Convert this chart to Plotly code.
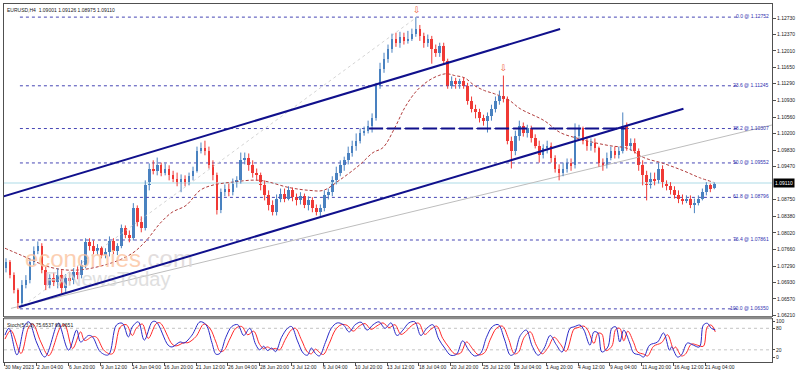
import plotly.graph_objects as go

# ---------------- data ----------------
title_text = "EURUSD,H4  1.09001 1.09126 1.08975 1.09110"
stoch_text = "Stoch(5,3,3) 75.6537 69.9651"

opens = [1.0724, 1.0737, 1.0709, 1.0676, 1.0647, 1.0687, 1.0698, 1.0737, 1.0763, 1.0774,
         1.0720, 1.0687, 1.0702, 1.0693, 1.0709, 1.0680, 1.0702, 1.0698, 1.0715, 1.0709,
         1.0731, 1.0781, 1.0774, 1.0763, 1.0768, 1.0753, 1.0759, 1.0785, 1.0763, 1.0774,
         1.0812, 1.0796, 1.0790, 1.0856, 1.0825, 1.0812, 1.0906, 1.0943, 1.0938, 1.0950,
         1.0934, 1.0943, 1.0928, 1.0921, 1.0913, 1.0921, 1.0913, 1.0926, 1.0938, 1.0982,
         1.0989, 1.0982, 1.0950, 1.0928, 1.0851, 1.0891, 1.0899, 1.0891, 1.0910, 1.0917,
         1.0961, 1.0967, 1.0950, 1.0934, 1.0928, 1.0906, 1.0884, 1.0862, 1.0847, 1.0877,
         1.0888, 1.0877, 1.0895, 1.0880, 1.0873, 1.0882, 1.0862, 1.0873, 1.0856, 1.0847,
         1.0856, 1.0884, 1.0891, 1.0917, 1.0934, 1.0950, 1.0961, 1.0978, 1.0993, 1.1004,
         1.1022, 1.1026, 1.1037, 1.1053, 1.1125, 1.1162, 1.1184, 1.1206, 1.1228, 1.1219,
         1.1232, 1.1223, 1.1228, 1.1239, 1.1250, 1.1234, 1.1219, 1.1228, 1.1206, 1.1197,
         1.1212, 1.1180, 1.1125, 1.1136, 1.1129, 1.1136, 1.1125, 1.1092, 1.1074, 1.1066,
         1.1053, 1.1048, 1.1059, 1.1074, 1.1092, 1.1103, 1.1096, 1.1004, 1.0982, 1.1015,
         1.1037, 1.1022, 1.1031, 1.1009, 1.0993, 1.0972, 1.0987, 1.0993, 1.0965, 1.0943,
         1.0934, 1.0943, 1.0954, 1.0950, 1.1015, 1.1031, 1.1004, 1.0993, 1.1000, 1.0987,
         1.0956, 1.0950, 1.0967, 1.0982, 1.0972, 1.0982, 1.1037, 1.0993, 1.1000, 1.0982,
         1.0950, 1.0928, 1.0906, 1.0921, 1.0917, 1.0943, 1.0910, 1.0904, 1.0895, 1.0884,
         1.0877, 1.0873, 1.0877, 1.0862, 1.0867, 1.0877, 1.0891, 1.0906, 1.09001]

highs = [1.0746, 1.0742, 1.0715, 1.0680, 1.0698, 1.0709, 1.0746, 1.0772, 1.0783, 1.0779,
         1.0728, 1.0711, 1.0715, 1.0724, 1.0720, 1.0711, 1.0715, 1.0724, 1.0728, 1.0742,
         1.0790, 1.0790, 1.0785, 1.0777, 1.0772, 1.0768, 1.0794, 1.0790, 1.0779, 1.0820,
         1.0818, 1.0807, 1.0867, 1.0862, 1.0838, 1.0917, 1.0954, 1.0961, 1.0967, 1.0956,
         1.0954, 1.0950, 1.0938, 1.0934, 1.0930, 1.0928, 1.0934, 1.0947, 1.0991, 1.1000,
         1.1004, 1.0991, 1.0961, 1.0934, 1.0899, 1.0908, 1.0910, 1.0921, 1.0926, 1.0978,
         1.0978, 1.0976, 1.0961, 1.0943, 1.0934, 1.0917, 1.0895, 1.0873, 1.0886, 1.0899,
         1.0899, 1.0904, 1.0901, 1.0888, 1.0891, 1.0888, 1.0882, 1.0880, 1.0864, 1.0864,
         1.0895, 1.0899, 1.0926, 1.0947, 1.0961, 1.0969, 1.0991, 1.1004, 1.1020, 1.1031,
         1.1035, 1.1048, 1.1064, 1.1131, 1.1175, 1.1197, 1.1215, 1.1239, 1.1241, 1.1243,
         1.1241, 1.1245, 1.1250, 1.12752, 1.1258, 1.1241, 1.1237, 1.1234, 1.1215, 1.1219,
         1.1219, 1.1184, 1.1145, 1.1142, 1.1140, 1.1142, 1.1131, 1.1101, 1.1083, 1.1074,
         1.1061, 1.1066, 1.1083, 1.1101, 1.1114, 1.1147, 1.1101, 1.1013, 1.1026, 1.1048,
         1.1044, 1.1039, 1.1037, 1.1018, 1.1004, 1.0996, 1.1004, 1.1000, 1.0972, 1.0952,
         1.0956, 1.0965, 1.0965, 1.1042, 1.1039, 1.1035, 1.1013, 1.1009, 1.1009, 1.0991,
         1.0965, 1.0978, 1.0991, 1.0991, 1.0991, 1.1066, 1.1044, 1.1009, 1.1009, 1.0987,
         1.0961, 1.0938, 1.0934, 1.0934, 1.0956, 1.0950, 1.0917, 1.0913, 1.0904, 1.0895,
         1.0886, 1.0884, 1.0884, 1.0877, 1.0884, 1.0899, 1.0913, 1.0910, 1.09126]

lows = [1.0715, 1.0702, 1.0669, 1.0635, 1.0641, 1.0680, 1.0691, 1.0731, 1.0755, 1.0713,
        1.0676, 1.0680, 1.0685, 1.0680, 1.0669, 1.0672, 1.0687, 1.0689, 1.0700, 1.0702,
        1.0724, 1.0763, 1.0755, 1.0753, 1.0746, 1.0746, 1.0750, 1.0755, 1.0753, 1.0768,
        1.0790, 1.0781, 1.0785, 1.0816, 1.0803, 1.0807, 1.0895, 1.0930, 1.0928, 1.0926,
        1.0928, 1.0917, 1.0913, 1.0904, 1.0891, 1.0904, 1.0906, 1.0917, 1.0934, 1.0976,
        1.0972, 1.0943, 1.0917, 1.0842, 1.0845, 1.0882, 1.0882, 1.0884, 1.0901, 1.0910,
        1.0952, 1.0938, 1.0923, 1.0917, 1.0895, 1.0873, 1.0851, 1.0840, 1.0840, 1.0869,
        1.0869, 1.0873, 1.0871, 1.0862, 1.0864, 1.0856, 1.0851, 1.0847, 1.0840, 1.0838,
        1.0849, 1.0875, 1.0882, 1.0908, 1.0926, 1.0938, 1.0952, 1.0969, 1.0982, 1.0998,
        1.1015, 1.1020, 1.1022, 1.1048, 1.1118, 1.1153, 1.1175, 1.1197, 1.1210, 1.1208,
        1.1215, 1.1217, 1.1223, 1.1232, 1.1223, 1.1208, 1.1210, 1.1173, 1.1188, 1.1188,
        1.1173, 1.1118, 1.1118, 1.1118, 1.1118, 1.1118, 1.1083, 1.1066, 1.1053, 1.1044,
        1.1037, 1.1022, 1.1048, 1.1066, 1.1083, 1.1088, 1.0996, 1.0943, 1.0972, 1.1004,
        1.1013, 1.1011, 1.1000, 1.0987, 1.0956, 1.0965, 1.0976, 1.0956, 1.0934, 1.0917,
        1.0926, 1.0934, 1.0938, 1.0943, 1.1009, 1.0996, 1.0982, 1.0982, 1.0978, 1.0947,
        1.0938, 1.0943, 1.0961, 1.0965, 1.0965, 1.0976, 1.0982, 1.0982, 1.0976, 1.0938,
        1.0906, 1.0873, 1.0899, 1.0906, 1.0910, 1.0901, 1.0895, 1.0886, 1.0877, 1.0867,
        1.0864, 1.0867, 1.0856, 1.0845, 1.0862, 1.0873, 1.0884, 1.0891, 1.08975]

closes = [1.0737, 1.0709, 1.0676, 1.0647, 1.0687, 1.0698, 1.0737, 1.0763, 1.0774, 1.0720,
          1.0687, 1.0702, 1.0693, 1.0709, 1.0680, 1.0702, 1.0698, 1.0715, 1.0709, 1.0731,
          1.0781, 1.0774, 1.0763, 1.0768, 1.0753, 1.0759, 1.0785, 1.0763, 1.0774, 1.0812,
          1.0796, 1.0790, 1.0856, 1.0825, 1.0812, 1.0906, 1.0943, 1.0938, 1.0950, 1.0934,
          1.0943, 1.0928, 1.0921, 1.0913, 1.0921, 1.0913, 1.0926, 1.0938, 1.0982, 1.0989,
          1.0982, 1.0950, 1.0928, 1.0851, 1.0891, 1.0899, 1.0891, 1.0910, 1.0917, 1.0961,
          1.0967, 1.0950, 1.0934, 1.0928, 1.0906, 1.0884, 1.0862, 1.0847, 1.0877, 1.0888,
          1.0877, 1.0895, 1.0880, 1.0873, 1.0882, 1.0862, 1.0873, 1.0856, 1.0847, 1.0856,
          1.0884, 1.0891, 1.0917, 1.0934, 1.0950, 1.0961, 1.0978, 1.0993, 1.1004, 1.1022,
          1.1026, 1.1037, 1.1053, 1.1125, 1.1162, 1.1184, 1.1206, 1.1228, 1.1219, 1.1232,
          1.1223, 1.1228, 1.1239, 1.1250, 1.1234, 1.1219, 1.1228, 1.1206, 1.1197, 1.1212,
          1.1180, 1.1125, 1.1136, 1.1129, 1.1136, 1.1125, 1.1092, 1.1074, 1.1066, 1.1053,
          1.1048, 1.1059, 1.1074, 1.1092, 1.1103, 1.1096, 1.1004, 1.0982, 1.1015, 1.1037,
          1.1022, 1.1031, 1.1009, 1.0993, 1.0972, 1.0987, 1.0993, 1.0965, 1.0943, 1.0934,
          1.0943, 1.0954, 1.0950, 1.1015, 1.1031, 1.1004, 1.0993, 1.1000, 1.0987, 1.0956,
          1.0950, 1.0967, 1.0982, 1.0972, 1.0982, 1.1037, 1.0993, 1.1000, 1.0982, 1.0950,
          1.0928, 1.0906, 1.0921, 1.0917, 1.0943, 1.0910, 1.0904, 1.0895, 1.0884, 1.0877,
          1.0873, 1.0877, 1.0862, 1.0867, 1.0877, 1.0891, 1.0906, 1.0899, 1.09110]

# moving average (read at sampled bars)
ma_bars = [0, 8, 23, 36, 53, 64, 71, 78, 84, 91, 98, 104, 114, 128, 143, 153, 160, 168, 178,
           185, 190, 196, 201, 207, 213, 218, 222, 226, 231, 236, 241, 246, 253, 259, 271,
           279, 288, 296, 304, 313, 321, 331, 341, 349, 356]
ma_vals = [1.0768, 1.0753, 1.0726, 1.0720, 1.0735, 1.0757, 1.0785, 1.0823, 1.0847, 1.0862,
           1.0895, 1.0906, 1.0913, 1.0917, 1.0901, 1.0895, 1.0895, 1.0917, 1.0950, 1.0978,
           1.0989, 1.1033, 1.1077, 1.1114, 1.1136, 1.1147, 1.1151, 1.1147, 1.1142, 1.1125,
           1.1114, 1.1107, 1.1094, 1.1074, 1.1048, 1.1022, 1.1009, 1.1000, 1.0993, 1.0987,
           1.0967, 1.0954, 1.0938, 1.0923, 1.0913]

# stochastic main (%K), read at sampled bars
stk_bars = [0, 2, 6, 10, 12, 16, 20, 26, 27, 32, 36, 38, 42, 44, 48, 52, 56, 59, 62, 64, 67, 70,
            74, 76, 82, 84, 88, 90, 94, 98,
            101, 104, 106, 108, 111, 114, 117, 120, 123, 126, 128, 130, 132, 134, 136, 139,
            142, 144, 147, 150, 152, 154, 156, 158, 161, 164, 167, 170, 173, 176, 179, 182,
            185, 188, 191, 194, 197, 200, 203, 206, 209, 212, 215, 218, 221, 224, 227, 230,
            233, 236, 239, 242, 245, 248, 251, 254, 256, 259, 262, 265, 268, 271, 274, 277,
            280, 284, 286, 289, 291, 294, 296, 298, 300, 303, 305, 307, 309,
            311, 314, 316, 319, 321, 324, 328, 331, 334, 335, 338, 340, 343, 346, 349, 351,
            353, 355, 357]
stk_vals = [61, 80, 6, 89, 98, 39, 0, 89, 94, 19, 75, 42, 60, 56, 14, 6, 89, 94, 56, 84, 98, 47,
            98, 98, 33, 28, 42, 39, 61, 98,
            90, 40, 8, 10, 55, 85, 90, 60, 80, 35, 20, 30, 18, 25, 15, 55,
            80, 85, 45, 10, 5, 25, 10, 3, 40, 80, 95, 90, 70, 90, 97, 75,
            90, 98, 80, 95, 60, 75, 95, 98, 60, 80, 90, 50, 25, 5, 8, 45,
            20, 3, 10, 55, 85, 90, 50, 5, 10, 60, 75, 30, 5, 25, 60, 35,
            14, 80, 84, 89, 75, 33, 70, 67, 14, 28, 80, 84, 42,
            75, 39, 11, 6, 0, 33, 42, 67, 19, 28, 0, 6, 39, 33, 28, 89,
            94, 80, 75.65]
# stochastic signal (%D)
sig_bars = [0, 3, 8, 12, 14, 18, 22, 28, 30, 34, 38, 40, 44, 46, 50, 54, 58, 61, 64, 66, 69, 72,
            76, 78, 84, 86, 90, 92, 96, 100,
            103, 106, 108, 110, 113, 116, 119, 122, 125, 128, 130, 132, 134, 136, 138, 141,
            144, 146, 149, 152, 154, 156, 158, 160, 163, 166, 169, 172, 175, 178, 181, 184,
            187, 190, 193, 196, 199, 202, 205, 208, 211, 214, 217, 220, 223, 226, 229, 232,
            235, 238, 241, 244, 247, 250, 253, 256, 258, 261, 264, 267, 270, 273, 276, 279,
            282, 286, 288, 291, 293, 296, 298, 300, 302, 305, 307, 309, 311,
            313, 316, 318, 321, 323, 326, 330, 333, 336, 337, 340, 342, 345, 348, 351, 353,
            355, 357]
sig_vals = [50, 74, 10, 84, 92, 42, 4, 84, 90, 24, 70, 46, 57, 55, 17, 9, 84, 90, 60, 80, 92, 52,
            93, 95, 36, 31, 40, 40, 57, 92,
            80, 42, 16, 18, 50, 80, 85, 62, 72, 35, 24, 28, 22, 24, 20, 50,
            76, 80, 48, 14, 9, 22, 13, 7, 38, 75, 90, 88, 72, 86, 93, 77,
            87, 95, 82, 90, 63, 74, 90, 94, 63, 77, 86, 52, 28, 9, 11, 42,
            23, 6, 12, 50, 80, 86, 52, 9, 13, 55, 70, 33, 9, 27, 55, 37,
            16, 78, 82, 86, 74, 38, 66, 64, 18, 30, 77, 80, 45,
            72, 40, 14, 8, 3, 30, 40, 62, 23, 28, 3, 8, 36, 33, 30, 84,
            89, 69.97]

date_labels = ["30 May 2023", "2 Jun 04:00", "6 Jun 20:00", "9 Jun 12:00", "14 Jun 04:00",
               "16 Jun 20:00", "21 Jun 12:00", "26 Jun 04:00", "28 Jun 20:00", "3 Jul 12:00",
               "6 Jul 04:00", "10 Jul 20:00", "13 Jul 12:00", "18 Jul 04:00", "20 Jul 20:00",
               "25 Jul 12:00", "28 Jul 04:00", "1 Aug 20:00", "4 Aug 12:00", "9 Aug 04:00",
               "11 Aug 20:00", "16 Aug 12:00", "21 Aug 04:00"]
bars_per_label = 16

price_ticks = [1.12730, 1.12370, 1.12010, 1.11650, 1.11290, 1.10930, 1.10560, 1.10200,
               1.09830, 1.09470, 1.08750, 1.08380, 1.08020, 1.07660, 1.07290, 1.06930,
               1.06570, 1.06210]
last_price = 1.09110

fib_levels = ["0.0", "23.6", "38.2", "50.0", "61.8", "76.4", "100.0"]
fib_prices = [1.12752, 1.11245, 1.10307, 1.09552, 1.08796, 1.07861, 1.06350]
fib_span = [7.5, 368]

upper_channel = ([-2, 279], [1.0880, 1.1249])
lower_channel = ([7, 341], [1.0639, 1.1074])
gray_trend = ([3, 386], [1.0636, 1.1039])
fib_diagonal = ([7, 207], [1.0635, 1.12752])
dashed_level = ([183, 312], [1.10307, 1.10307])
arrow_bars = [207, 250.5]
arrow_prices = [1.1289, 1.1162]

# ---------------- styles ----------------
UP = "#4a82c0"
DN = "#f03a36"
NAVY = "#10108c"
FIB = "#4646b4"
FONT = "Liberation Sans, Arial, sans-serif"

fig = go.Figure()

x_range = [-0.5, 385.5]

# current price line
fig.add_trace(go.Scatter(x=x_range, y=[last_price, last_price], mode="lines",
                         line=dict(color="#d6edf3", width=2), hoverinfo="skip"))

# fib lines
for p in fib_prices:
    fig.add_trace(go.Scatter(x=fib_span, y=[p, p], mode="lines",
                             line=dict(color=FIB, width=1, dash="dot"), hoverinfo="skip"))

# thin lines
fig.add_trace(go.Scatter(x=fib_diagonal[0], y=fib_diagonal[1], mode="lines",
                         line=dict(color="#d4d4d4", width=1, dash="dot"), hoverinfo="skip"))
fig.add_trace(go.Scatter(x=gray_trend[0], y=gray_trend[1], mode="lines",
                         line=dict(color="#bdbdbd", width=1), hoverinfo="skip"))

# moving average
fig.add_trace(go.Scatter(x=ma_bars, y=ma_vals, mode="lines", line_shape="spline",
                         line=dict(color="#b03c3c", width=1, dash="3px,2px"), hoverinfo="skip"))

# candles
n = len(closes)
candle_x = [2 * k + 0.5 for k in range(n)]
ux, ub, uh, dx, db, dh = [], [], [], [], [], []
uwx, uwy, dwx, dwy = [], [], [], []
for x, o, h, l, c in zip(candle_x, opens, highs, lows, closes):
    if c >= o:
        ux.append(x); ub.append(o); uh.append(max(c - o, 0.00005))
        uwx += [x, x, None]; uwy += [l, h, None]
    else:
        dx.append(x); db.append(c); dh.append(max(o - c, 0.00005))
        dwx += [x, x, None]; dwy += [l, h, None]

fig.add_trace(go.Scatter(x=uwx, y=uwy, mode="lines", line=dict(color=UP, width=1), hoverinfo="skip"))
fig.add_trace(go.Scatter(x=dwx, y=dwy, mode="lines", line=dict(color=DN, width=1), hoverinfo="skip"))
fig.add_trace(go.Bar(x=ux, y=uh, base=ub, width=1.3, marker=dict(color=UP, line=dict(width=0)),
                     hoverinfo="skip"))
fig.add_trace(go.Bar(x=dx, y=dh, base=db, width=1.3, marker=dict(color=DN, line=dict(width=0)),
                     hoverinfo="skip"))

# watermark (semi-transparent, over the candles)
fig.add_trace(go.Scatter(x=[10], y=[1.0740], mode="text", textposition="middle right", opacity=0.8,
                         text=["<span style='color:#fcc4a0'>economies</span><span style='color:#dcd6d6'>.com</span>"],
                         textfont=dict(size=24, family=FONT), hoverinfo="skip"))
fig.add_trace(go.Scatter(x=[20], y=[1.0696], mode="text", textposition="middle right", opacity=0.8,
                         text=["FxNewsToday"], textfont=dict(size=20, family=FONT, color="#d8d8d8"),
                         hoverinfo="skip"))

# channel lines
for seg in (upper_channel, lower_channel):
    fig.add_trace(go.Scatter(x=seg[0], y=seg[1], mode="lines",
                             line=dict(color=NAVY, width=2), hoverinfo="skip"))
fig.add_trace(go.Scatter(x=dashed_level[0], y=dashed_level[1], mode="lines",
                         line=dict(color=NAVY, width=2, dash="14px,4px"), hoverinfo="skip"))

# arrows
fig.add_trace(go.Scatter(x=arrow_bars, y=arrow_prices, mode="text", text=["⇩", "⇩"],
                         textfont=dict(size=9, color="#f0603c", family="DejaVu Sans"),
                         hoverinfo="skip"))

# stochastic
fig.add_trace(go.Scatter(x=x_range, y=[80, 80], mode="lines", xaxis="x2", yaxis="y2",
                         line=dict(color="#c4c4c4", width=1, dash="dot"), hoverinfo="skip"))
fig.add_trace(go.Scatter(x=x_range, y=[20, 20], mode="lines", xaxis="x2", yaxis="y2",
                         line=dict(color="#c4c4c4", width=1, dash="dot"), hoverinfo="skip"))
fig.add_trace(go.Scatter(x=sig_bars, y=sig_vals, mode="lines", line_shape="spline", xaxis="x2", yaxis="y2",
                         line=dict(color="#ff2a2a", width=1), hoverinfo="skip"))
fig.add_trace(go.Scatter(x=stk_bars, y=stk_vals, mode="lines", line_shape="spline", xaxis="x2", yaxis="y2",
                         line=dict(color="#2c2cc8", width=1), hoverinfo="skip"))

main_bottom = 0.1281
stoch_top = 0.1198

annotations = []
annotations.append(dict(x=0, y=1, xref="paper", yref="paper", xanchor="left", yanchor="top",
                        text=title_text, showarrow=False, xshift=1, yshift=-1,
                        font=dict(size=5, color="#202020", family=FONT)))
annotations.append(dict(x=0, y=stoch_top, xref="paper", yref="paper", xanchor="left", yanchor="top",
                        text=stoch_text, showarrow=False, xshift=1, yshift=-1,
                        font=dict(size=5, color="#202020", family=FONT)))
for lvl, p in zip(fib_levels, fib_prices):
    annotations.append(dict(x=1, y=p, xref="paper", yref="y", xanchor="right", yanchor="middle",
                            text=f"{lvl} @ {p:.5f}", showarrow=False, xshift=-1, yshift=1,
                            font=dict(size=5, color="#3030b0", family=FONT)))
annotations.append(dict(x=1, y=last_price, xref="paper", yref="y", xanchor="left", yanchor="middle",
                        text=f"{last_price:.5f}", showarrow=False, bgcolor="#000000", borderpad=1,
                        xshift=1, font=dict(size=5, color="#ffffff", family=FONT)))
for j, lab in enumerate(date_labels):
    annotations.append(dict(x=j * bars_per_label, y=0, xref="x2", yref="paper", xanchor="left",
                            yanchor="top", text=lab, showarrow=False, xshift=-2, yshift=0,
                            font=dict(size=5, color="#202020", family=FONT)))

fig.update_layout(
    width=798, height=372,
    margin=dict(l=3, r=23, t=3, b=10),
    paper_bgcolor="white", plot_bgcolor="white",
    showlegend=False, barmode="overlay", bargap=0,
    font=dict(family=FONT, size=5, color="#202020"),
    xaxis=dict(domain=[0, 1], range=x_range, anchor="y", showgrid=False, zeroline=False,
               showticklabels=False, ticks="", showline=True, linecolor="#505050",
               linewidth=1, mirror=True),
    yaxis=dict(domain=[main_bottom, 1], range=[1.0619, 1.1304], side="right",
               tickvals=price_ticks, ticktext=[f"{v:.5f}" for v in price_ticks],
               tickfont=dict(size=5, color="#202020", family=FONT), ticks="outside", ticklen=3,
               tickcolor="#505050", showgrid=False, zeroline=False, showline=True,
               linecolor="#505050", mirror=True),
    xaxis2=dict(domain=[0, 1], range=x_range, anchor="y2", matches="x", showgrid=False,
                zeroline=False, showticklabels=False, ticks="outside", ticklen=3,
                tickcolor="#505050", tickvals=[j * bars_per_label for j in range(len(date_labels))],
                showline=True, linecolor="#505050", mirror=True),
    yaxis2=dict(domain=[0, stoch_top], range=[-13.9, 105.6], side="right",
                tickvals=[0, 20, 80, 100], ticktext=["0", "20", "80", "100"],
                tickfont=dict(size=5, color="#202020", family=FONT), ticks="outside", ticklen=2,
                tickcolor="#505050", showgrid=False, zeroline=False, showline=True,
                linecolor="#505050", mirror=True),
    annotations=annotations,
    shapes=[dict(type="line", xref="paper", yref="paper", x0=0, x1=1,
                 y0=(main_bottom + stoch_top) / 2, y1=(main_bottom + stoch_top) / 2,
                 line=dict(color="#8a8a8a", width=3))],
)

fig.write_html("out.html", config={"displayModeBar": False},
               post_script="document.body.style.margin='0';document.body.style.overflow='hidden';")
